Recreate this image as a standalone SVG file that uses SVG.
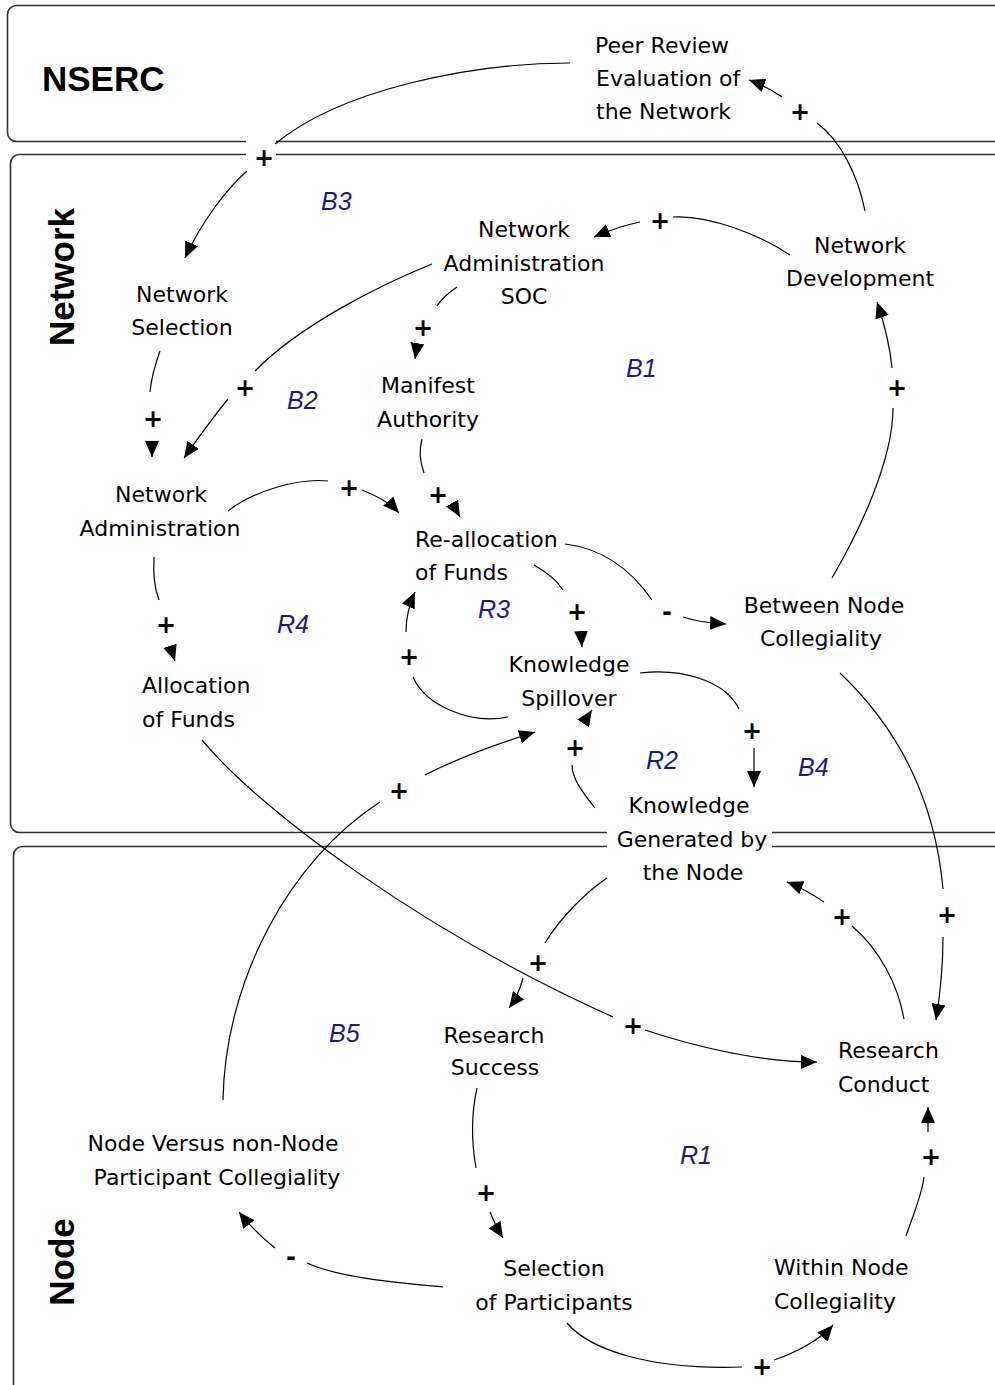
<svg xmlns="http://www.w3.org/2000/svg" width="995" height="1385" viewBox="0 0 995 1385">
<defs>
<style>
.panel{fill:none;stroke:#333;stroke-width:1.6}
.lane{font-family:"Liberation Sans",Arial,sans-serif;font-weight:bold;font-size:35px;fill:#000}
.nd{font-family:"DejaVu Sans","Liberation Sans",sans-serif;font-size:22px;fill:#000}
.c{text-anchor:middle}
.ln{fill:none;stroke:#000;stroke-width:1.2}
.ar{marker-end:url(#ah)}
.sg{font-family:"DejaVu Sans","Liberation Sans",sans-serif;font-weight:bold;font-size:24px;fill:#000;text-anchor:middle;dominant-baseline:central}
.lp{font-family:"Liberation Sans",Arial,sans-serif;font-style:italic;font-size:25px;fill:#1a1a8c}
</style>
<marker id="ah" viewBox="0 0 16 14" refX="16" refY="7" markerWidth="16" markerHeight="14" markerUnits="userSpaceOnUse" orient="auto">
<path d="M0,0 L16,7 L0,14 z" fill="#000"/>
</marker>
</defs>

<g id="panels">
<rect class="panel" x="7.5" y="5.5" width="1020" height="136" rx="9"/>
<rect class="panel" x="10.5" y="154.5" width="1020" height="678" rx="9"/>
<rect class="panel" x="13.5" y="846.5" width="1020" height="560" rx="9"/>
<rect x="246" y="136" width="30" height="24" fill="#fff"/>
<rect x="607" y="826" width="165" height="26" fill="#fff"/>
<text class="lane" x="42" y="91">NSERC</text>
<text class="lane c" transform="translate(74,277) rotate(-90)">Network</text>
<text class="lane c" transform="translate(74,1262) rotate(-90)">Node</text>
</g>

<g id="connectors">
<path class="ln" d="M570,63 C470,63 340,90 275,144"/>
<path class="ln ar" d="M247,171 C225,190 200,225 185,258"/>
<path class="ln" d="M865,211 C858,175 840,140 817,123"/>
<path class="ln ar" d="M782,97 C772,90 760,84 749,80"/>
<path class="ln" d="M790,255 C760,235 710,215 673,217"/>
<path class="ln ar" d="M640,222 C625,225 610,230 594,237"/>
<path class="ln" d="M457,287 C448,293 441,300 437,306"/>
<path class="ln ar" d="M417,346 L415,359"/>
<path class="ln" d="M432,264 C380,285 300,325 255,371"/>
<path class="ln ar" d="M228,399 C215,415 198,438 184,458"/>
<path class="ln" d="M160,351 C155,365 151,380 150,392"/>
<path class="ln ar" d="M152,443 L152,457"/>
<path class="ln" d="M832,578 C860,530 893,460 893,408"/>
<path class="ln ar" d="M892,368 C890,345 883,320 877,302"/>
<path class="ln" d="M228,511 C255,490 300,478 328,481"/>
<path class="ln ar" d="M362,490 C375,495 390,503 399,513"/>
<path class="ln" d="M422,439 C419,450 420,462 424,473"/>
<path class="ln ar" d="M452,503 L460,517"/>
<path class="ln" d="M154,557 C153,575 155,590 159,600"/>
<path class="ln ar" d="M170,646 L175,661"/>
<path class="ln" d="M202,740 C260,810 420,930 613,1017"/>
<path class="ln ar" d="M645,1030 C700,1048 760,1062 817,1062"/>
<path class="ln" d="M565,544 C600,548 630,568 652,600"/>
<path class="ln ar" d="M683,617 C695,621 710,623 726,624"/>
<path class="ln" d="M534,565 C548,573 558,582 563,590"/>
<path class="ln ar" d="M581,632 L582,647"/>
<path class="ln" d="M508,717 C470,725 425,705 413,677"/>
<path class="ln ar" d="M406,632 C406,620 409,605 415,592"/>
<path class="ln" d="M640,673 C680,668 725,680 739,709"/>
<path class="ln ar" d="M754,748 L754,787"/>
<path class="ln" d="M595,808 C585,795 572,780 572,765"/>
<path class="ln ar" d="M584,722 L592,710"/>
<path class="ln" d="M223,1100 C225,980 290,860 380,802"/>
<path class="ln ar" d="M425,775 C460,757 500,743 535,732"/>
<path class="ln" d="M607,878 C585,893 560,918 545,943"/>
<path class="ln ar" d="M523,978 C520,990 515,1000 509,1008"/>
<path class="ln" d="M904,1019 C898,985 880,950 852,926"/>
<path class="ln ar" d="M824,902 C812,894 800,887 787,882"/>
<path class="ln" d="M840,673 C900,730 935,800 943,889"/>
<path class="ln ar" d="M943,937 C943,965 940,995 936,1020"/>
<path class="ln" d="M477,1088 C471,1115 472,1145 476,1168"/>
<path class="ln ar" d="M490,1212 C493,1220 498,1230 503,1238"/>
<path class="ln" d="M443,1287 C400,1283 340,1278 307,1263"/>
<path class="ln ar" d="M275,1248 C265,1240 250,1226 239,1212"/>
<path class="ln" d="M567,1323 C590,1350 650,1370 742,1367"/>
<path class="ln ar" d="M774,1360 C795,1353 820,1340 833,1325"/>
<path class="ln" d="M906,1236 C913,1215 922,1195 924,1177"/>
<path class="ln ar" d="M928,1132 L928,1107"/>
<g id="polarities">
<text class="sg" x="264" y="158">+</text>
<text class="sg" x="800" y="112">+</text>
<text class="sg" x="660" y="221">+</text>
<text class="sg" x="423" y="328">+</text>
<text class="sg" x="245" y="388">+</text>
<text class="sg" x="153" y="419">+</text>
<text class="sg" x="897" y="388">+</text>
<text class="sg" x="349" y="488">+</text>
<text class="sg" x="438" y="495">+</text>
<text class="sg" x="166" y="625">+</text>
<text class="sg" x="667" y="612">-</text>
<text class="sg" x="577" y="612">+</text>
<text class="sg" x="409" y="657">+</text>
<text class="sg" x="752" y="731">+</text>
<text class="sg" x="575" y="748">+</text>
<text class="sg" x="399" y="791">+</text>
<text class="sg" x="538" y="963">+</text>
<text class="sg" x="633" y="1026">+</text>
<text class="sg" x="842" y="917">+</text>
<text class="sg" x="947" y="915">+</text>
<text class="sg" x="486" y="1193">+</text>
<text class="sg" x="931" y="1157">+</text>
<text class="sg" x="291" y="1257">-</text>
<text class="sg" x="762" y="1367">+</text>
</g>
</g>

<g id="loops">
<text class="lp" x="321" y="210">B3</text>
<text class="lp" x="626" y="377">B1</text>
<text class="lp" x="287" y="409">B2</text>
<text class="lp" x="277" y="633">R4</text>
<text class="lp" x="478" y="618">R3</text>
<text class="lp" x="646" y="769">R2</text>
<text class="lp" x="798" y="776">B4</text>
<text class="lp" x="329" y="1042">B5</text>
<text class="lp" x="680" y="1164">R1</text>
</g>

<g id="node-peer-review"><text class="nd"><tspan x="595" y="53">Peer Review</tspan><tspan x="596" y="86">Evaluation of</tspan><tspan x="596" y="119">the Network</tspan></text></g>
<g id="node-network-admin-soc"><text class="nd c"><tspan x="524" y="237">Network</tspan><tspan x="524" y="271">Administration</tspan><tspan x="524" y="304">SOC</tspan></text></g>
<g id="node-network-development"><text class="nd c"><tspan x="860" y="253">Network</tspan><tspan x="860" y="286">Development</tspan></text></g>
<g id="node-network-selection"><text class="nd c"><tspan x="182" y="302">Network</tspan><tspan x="182" y="335">Selection</tspan></text></g>
<g id="node-manifest-authority"><text class="nd c"><tspan x="428" y="393">Manifest</tspan><tspan x="428" y="427">Authority</tspan></text></g>
<g id="node-network-administration"><text class="nd c"><tspan x="161" y="502">Network</tspan><tspan x="160" y="536">Administration</tspan></text></g>
<g id="node-reallocation"><text class="nd"><tspan x="415" y="547">Re-allocation</tspan><tspan x="415" y="580">of Funds</tspan></text></g>
<g id="node-between-node"><text class="nd c"><tspan x="824" y="613">Between Node</tspan><tspan x="821" y="646">Collegiality</tspan></text></g>
<g id="node-knowledge-spillover"><text class="nd c"><tspan x="569" y="672">Knowledge</tspan><tspan x="569" y="706">Spillover</tspan></text></g>
<g id="node-allocation"><text class="nd"><tspan x="142" y="693">Allocation</tspan><tspan x="142" y="727">of Funds</tspan></text></g>
<g id="node-knowledge-generated"><text class="nd c"><tspan x="689" y="813">Knowledge</tspan><tspan x="692" y="847">Generated by</tspan><tspan x="693" y="880">the Node</tspan></text></g>
<g id="node-research-success"><text class="nd c"><tspan x="494" y="1043">Research</tspan><tspan x="495" y="1075">Success</tspan></text></g>
<g id="node-research-conduct"><text class="nd"><tspan x="838" y="1058">Research</tspan><tspan x="838" y="1092">Conduct</tspan></text></g>
<g id="node-node-vs-nonnode"><text class="nd c"><tspan x="213" y="1151">Node Versus non-Node</tspan><tspan x="217" y="1185">Participant Collegiality</tspan></text></g>
<g id="node-selection"><text class="nd c"><tspan x="554" y="1276">Selection</tspan><tspan x="554" y="1310">of Participants</tspan></text></g>
<g id="node-within-node"><text class="nd"><tspan x="774" y="1275">Within Node</tspan><tspan x="774" y="1309">Collegiality</tspan></text></g>
</svg>
